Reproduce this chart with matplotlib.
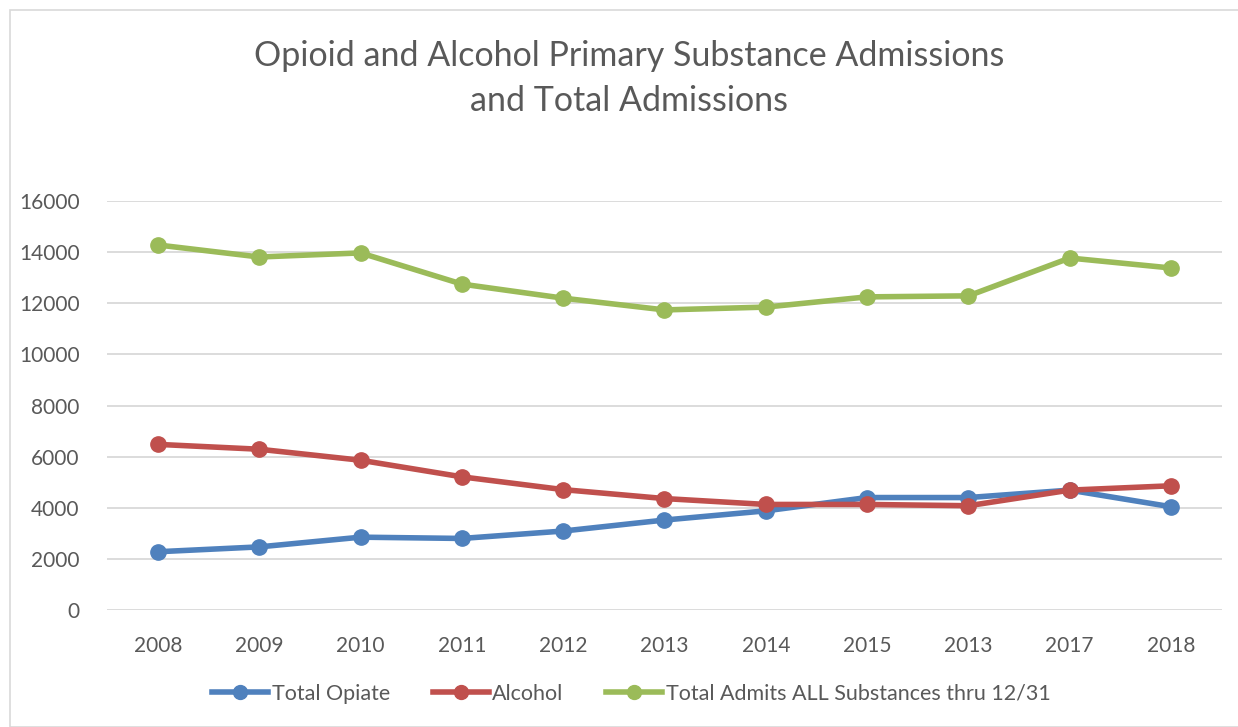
import matplotlib.pyplot as plt
from matplotlib.lines import Line2D
from matplotlib.patches import Rectangle

years = ["2008", "2009", "2010", "2011", "2012", "2013", "2014", "2015", "2013", "2017", "2018"]
opiate = [2280, 2470, 2850, 2800, 3090, 3520, 3880, 4400, 4400, 4690, 4040]
alcohol = [6480, 6290, 5860, 5210, 4710, 4360, 4130, 4130, 4080, 4690, 4860]
total = [14280, 13810, 13970, 12750, 12200, 11740, 11850, 12250, 12290, 13770, 13380]

series = [
    ("Total Opiate", opiate, "#4F81BD"),
    ("Alcohol", alcohol, "#C0504D"),
    ("Total Admits ALL Substances thru 12/31", total, "#9BBB59"),
]

plt.rcParams['font.family'] = ['Lato', 'DejaVu Sans']
txt = "#595959"

fig = plt.figure(figsize=(12.38, 7.27), dpi=100)
fig.patches.append(Rectangle((10 / 1238, 0.0), 1.0, 1 - 10 / 727, transform=fig.transFigure,
                             fill=False, edgecolor="#D9D9D9", linewidth=1.2))

ax = fig.add_axes([0.0867, 0.1609, 0.9001, 0.5626])
x = list(range(len(years)))
handles = []
for name, vals, col in series:
    ax.plot(x, vals, color=col, linewidth=4, marker="o", markersize=11, zorder=3)
    handles.append(Line2D([0], [0], color=col, linewidth=4, marker="o", markersize=10, label=name))

ax.set_xlim(-0.5, len(years) - 0.5)
ax.set_ylim(0, 16000)
ax.set_yticks(range(0, 16001, 2000))
ax.set_xticks(x)
ax.set_xticklabels(years)
ax.grid(axis="y", color="#D9D9D9", linewidth=1.3)
ax.set_axisbelow(True)
for s in ax.spines.values():
    s.set_visible(False)
ax.tick_params(length=0, labelsize=15, colors=txt)
ax.tick_params(axis="y", pad=20)
ax.tick_params(axis="x", pad=19)

fig.text(0.508, 0.892, "Opioid and Alcohol Primary Substance Admissions\nand Total Admissions",
         ha="center", va="center", fontsize=24.5, color=txt, linespacing=1.5)

fig.legend(handles=handles, loc="center", bbox_to_anchor=(0.51, 0.046), ncol=3, frameon=False,
           fontsize=15.5, labelcolor=txt, handlelength=2.6, handletextpad=0.15, columnspacing=2.0)

fig.savefig("out.png", dpi=100)
